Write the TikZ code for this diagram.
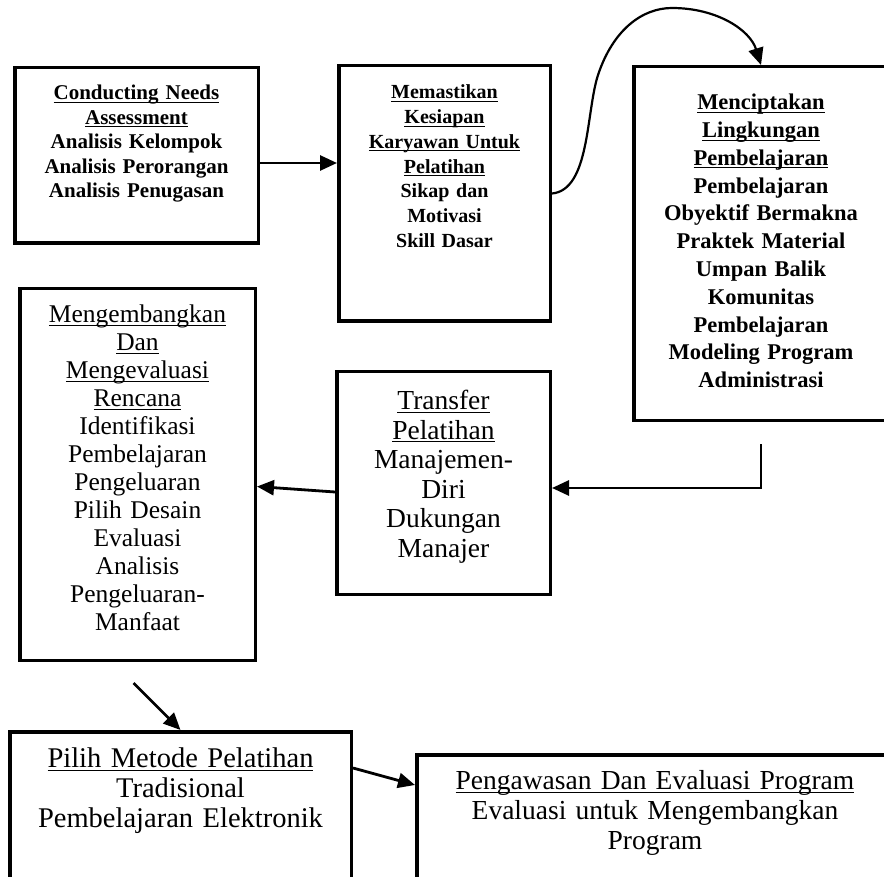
\documentclass[tikz,border=0pt]{standalone}
\usepackage{fontspec}
\setmainfont{Liberation Serif}
\usetikzlibrary{arrows.meta,positioning,calc}
% underlined heading line, rule just below the baseline
\newcommand{\hdg}[1]{\leavevmode\setbox0\hbox{#1}\rlap{\rule[-3pt]{\wd0}{1pt}}\box0}

\begin{document}
\begin{tikzpicture}[
        x=1pt, y=-1pt,
        box/.style={draw, line width=3.5pt, anchor=north west, align=center, inner xsep=0pt, text height=0pt},
        head/.style={font=\bfseries\fontsize{21}{24.5}\selectfont},
        body/.style={font=\fontsize{27.5}{30}\selectfont},
        flow/.style={draw, ->, >={Triangle[length=17pt,width=15pt]}, line width=2.8pt}
    ]
        \useasboundingbox (0,0) rectangle (884,877);

        % Top row
        \node (needs) [box, head, text width=243.5pt, inner ysep=32pt, text depth=111.5pt] at (13,66) {\hdg{Conducting Needs}\\\hdg{Assessment}\\Analisis Kelompok\\Analisis Perorangan\\Analisis Penugasan};
        \node (siap) [box, head, font=\bfseries\fontsize{20}{24.8}\selectfont, text width=211.5pt, inner ysep=33pt, text depth=189.5pt] at (337,64) {\hdg{Memastikan}\\\hdg{Kesiapan}\\\hdg{Karyawan Untuk}\\\hdg{Pelatihan}\\Sikap dan\\Motivasi\\Skill Dasar};
        \node (lingkungan) [box, head, font=\bfseries\fontsize{22.5}{27.8}\selectfont, text width=254.5pt, inner ysep=43pt, text depth=267.5pt] at (632,65) {\hdg{Menciptakan}\\\hdg{Lingkungan}\\\hdg{Pembelajaran}\\Pembelajaran\\Obyektif Bermakna\\Praktek Material\\Umpan Balik\\Komunitas\\Pembelajaran\\Modeling Program\\Administrasi};

        % Middle row
        \node (rencana) [box, body, font=\fontsize{25.5}{28}\selectfont, text width=235.5pt, inner ysep=34pt, text depth=303.5pt] at (18,287) {\hdg{Mengembangkan}\\\hdg{Dan}\\\hdg{Mengevaluasi}\\\hdg{Rencana}\\Identifikasi\\Pembelajaran\\Pengeluaran\\Pilih Desain\\Evaluasi\\Analisis\\Pengeluaran-\\Manfaat};
        \node (transfer) [box, body, font=\fontsize{27.5}{29.5}\selectfont, text width=213.5pt, inner ysep=38pt, text depth=146.5pt] at (335,370) {\hdg{Transfer}\\\hdg{Pelatihan}\\Manajemen-\\Diri\\Dukungan\\Manajer};

        % Bottom row
        \node (metode) [box, body, font=\fontsize{28.5}{30}\selectfont, text width=341.5pt, inner ysep=36pt, text depth=94.5pt] at (8,730) {\hdg{Pilih Metode Pelatihan}\\Tradisional\\Pembelajaran Elektronik};
        \node (pengawasan) [box, body, text width=476.5pt, inner ysep=35pt, text depth=76.5pt] at (415,753) {\hdg{Pengawasan Dan Evaluasi Program}\\Evaluasi untuk Mengembangkan\\Program};

        % Arrows
        \draw [flow] ([yshift=-7.5pt]needs.east) -- ([yshift=-7.5pt]needs.east -| siap.west);
        \draw [flow, line width=2.2pt] (siap.east) .. controls (590,190) and (586,112) .. (598,75) .. controls (613,30) and (642,8) .. (672,8) .. controls (717,8) and (750,30) .. (lingkungan.north);
        \draw [flow] ([yshift=-22pt]lingkungan.south) |- ([yshift=-5pt]transfer.east);
        \draw [flow] ([yshift=-9pt]transfer.west) -- ([yshift=-12pt]rencana.east);
        \coordinate (rencana-out) at ([shift={(-4pt,-21pt)}]rencana.south);
        \draw [flow] (rencana-out) -- (metode.north);
        \draw [flow] ([yshift=-38pt]metode.north east) -- ([yshift=-32pt]pengawasan.north west);

    \end{tikzpicture}
\end{document}
